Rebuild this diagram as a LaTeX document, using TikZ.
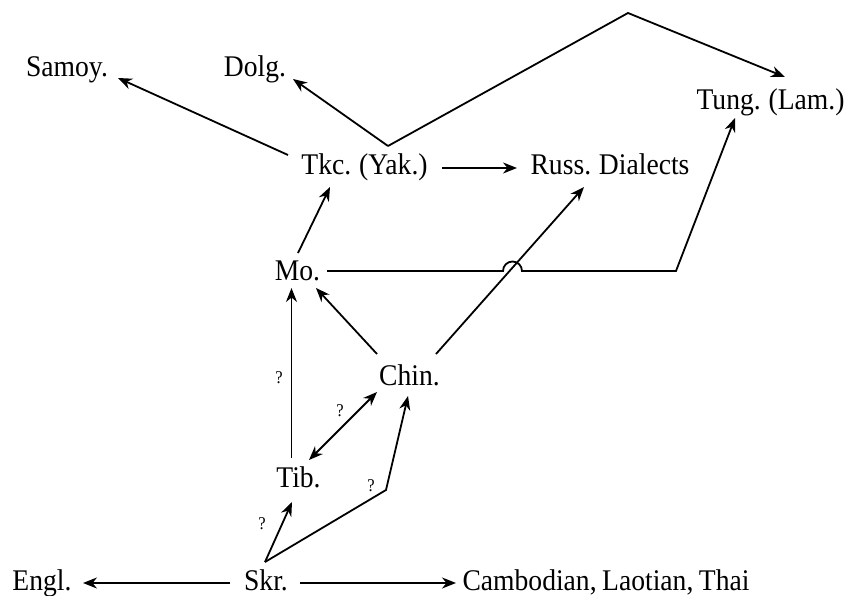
\documentclass[tikz,border=0pt]{standalone}
\usepackage{fontspec}
\setmainfont{Liberation Serif}[FakeStretch=0.92,WordSpace=0.8]
\usetikzlibrary{arrows.meta}
\begin{document}
\begin{tikzpicture}[x=1pt,y=-1pt,
  lang/.style={anchor=base,inner sep=0pt,font=\fontsize{30}{32}\selectfont},
  qm/.style={inner sep=0pt,font=\fontsize{18}{19}\selectfont},
  conn/.style={line width=1.8pt},
  arr/.style={conn,-{Stealth[length=14pt,width=11pt,inset=4.5pt]}},
  darr/.style={conn,{Stealth[length=14pt,width=11pt,inset=4.5pt]}-{Stealth[length=14pt,width=11pt,inset=4.5pt]}}]
\useasboundingbox (0,0) rectangle (849,596);
\node[lang] (Samoy) at (67,77) {Samoy.};
\node[lang] (Dolg) at (255,77) {Dolg.};
\node[lang] (Tung) at (770.5,110) {Tung. (Lam.)};
\node[lang] (Tkc) at (364.5,175) {Tkc. (Yak.)};
\node[lang] (Russ) at (610,175) {Russ. Dialects};
\node[lang] (Mo) at (297.5,280) {Mo.};
\node[lang] (Chin) at (409.5,385) {Chin.};
\node[lang] (Tib) at (298.5,487) {Tib.};
\node[lang] (Skr) at (266,590) {Skr.};
\node[lang] (Engl) at (42,590) {Engl.};
\node[lang] (Camb) at (606,590) {Cambodian, Laotian, Thai};
\coordinate (bend) at (386,490);
\coordinate (apex) at (628,13);
\coordinate (vtx) at (388,146);
\coordinate (corner) at (676,271);
% Skr edges
\draw[arr] ([shift={(-36,-7)}]Skr.base) -- ([shift={(41,-7)}]Engl.base);
\draw[arr] ([shift={(34,-7)}]Skr.base) -- ([shift={(-150,-7)}]Camb.base);
\draw[arr] ([shift={(-1,-28)}]Skr.base) -- ([shift={(-6.5,15)}]Tib.base);
\draw[arr] ([shift={(-1,-28)}]Skr.base) -- (bend) -- ([shift={(-1.5,11)}]Chin.base);
% Tib edges
\draw[darr] ([shift={(10.5,-27)}]Tib.base) -- ([shift={(-32.5,7)}]Chin.base);
\draw[arr] ([shift={(-7,-29)}]Tib.base) -- ([shift={(-6,8)}]Mo.base);
% Chin edges
\draw[arr] ([shift={(-32.5,-31)}]Chin.base) -- ([shift={(18.5,8)}]Mo.base);
\draw[arr] ([shift={(26.5,-31)}]Chin.base) -- ([shift={(-26,12)}]Russ.base);
% Mo edges
\draw[arr] ([shift={(0.5,-27)}]Mo.base) -- ([shift={(-34.5,12)}]Tkc.base);
\draw[arr] ([shift={(29.5,-9)}]Mo.base) -- (503,271)
  arc[start angle=180,end angle=0,radius=9.5pt] -- (corner) -- ([shift={(-35.5,8)}]Tung.base);
% Tkc edges
\draw[arr] ([shift={(77.5,-7)}]Tkc.base) -- ([shift={(-93,-7)}]Russ.base);
\draw[arr] ([shift={(-76.5,-20)}]Tkc.base) -- ([shift={(51,1)}]Samoy.base);
\draw[arr] (vtx) -- ([shift={(38,2)}]Dolg.base);
\draw[arr] (vtx) -- (apex) -- ([shift={(14.5,-33)}]Tung.base);
% question marks
\node[qm] (q1) at (279,378) {?};
\node[qm] (q2) at (340,411) {?};
\node[qm] (q3) at (262,524) {?};
\node[qm] (q4) at (371,486) {?};
\end{tikzpicture}
\end{document}
